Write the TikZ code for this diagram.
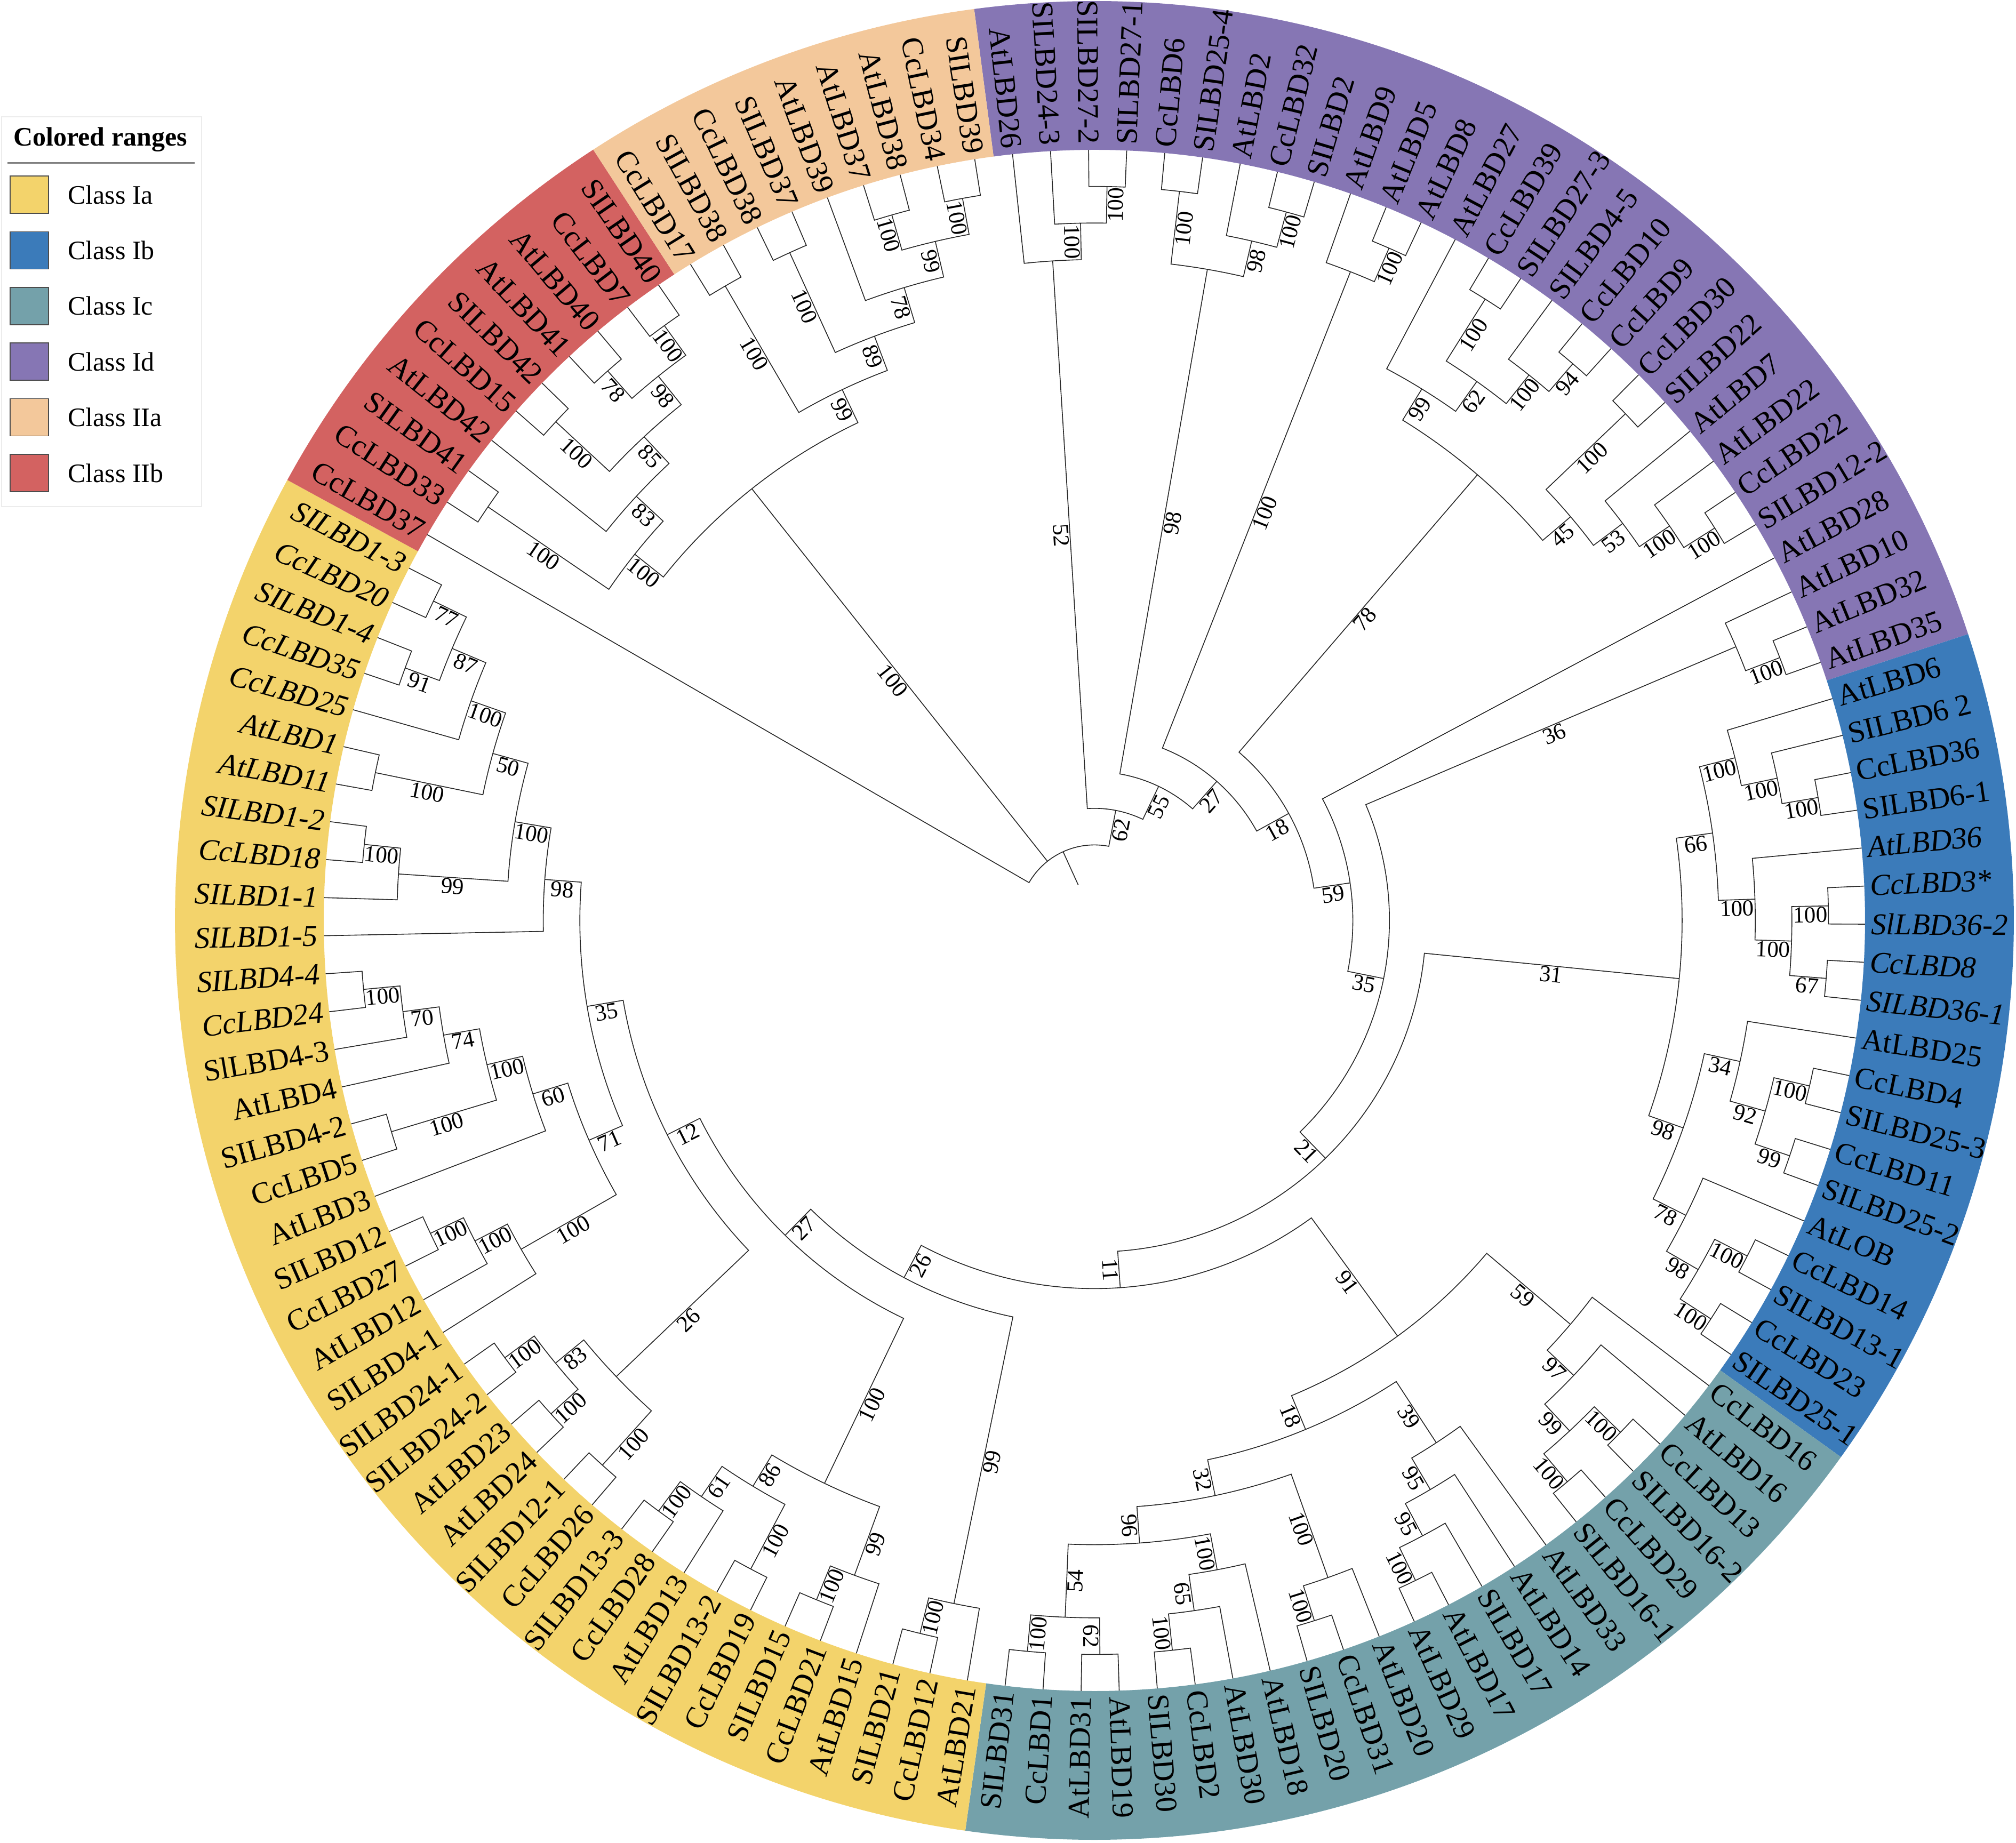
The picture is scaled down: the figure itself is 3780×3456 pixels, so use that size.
\documentclass[tikz,border=0pt]{standalone}
\usepackage{fontspec}
\setmainfont{Liberation Serif}

\definecolor{cIa}{RGB}{243,211,107}
\definecolor{cIb}{RGB}{59,123,186}
\definecolor{cIc}{RGB}{116,161,170}
\definecolor{cId}{RGB}{134,118,180}
\definecolor{cIIa}{RGB}{243,200,155}
\definecolor{cIIb}{RGB}{211,98,97}

\def\Rleaf{1445}
\def\Rtext{1456}
\def\Rout{1724}
\def\hstep{68.6}
\def\startang{96.1}
\def\stepang{2.83465}

\tikzset{
  branch/.style={line width=1.6pt, black!85},
  boot/.style={font=\fontsize{43}{45}\selectfont, anchor=north, inner sep=2pt},
  leaflbl/.style={font=\fontsize{57}{60}\selectfont, inner sep=0pt},
}

\newcommand{\band}[3]{%
  \pgfmathsetmacro\gA{\startang-(#2-0.5)*\stepang}%
  \pgfmathsetmacro\gB{\startang-(#3+0.5)*\stepang}%
  \fill[#1] (\gA:\Rleaf pt) arc[start angle=\gA, end angle=\gB, radius=\Rleaf pt]
    -- (\gB:\Rout pt) arc[start angle=\gB, end angle=\gA, radius=\Rout pt] -- cycle;}

\newcommand{\leaf}[4]{%
  \pgfmathsetmacro\lang{\startang-#1*\stepang}%
  \expandafter\xdef\csname ang@#2\endcsname{\lang}%
  \expandafter\xdef\csname hgt@#2\endcsname{0}%
  \coordinate (#2) at (\lang:\Rleaf pt);%
  \pgfmathsetmacro\lnorm{mod(\lang+720,360)}%
  \pgfmathtruncatemacro\lleft{and(\lnorm>90,\lnorm<270)}%
  \ifnum\lleft=1
    \pgfmathsetmacro\lrot{\lang+180}%
    \node[leaflbl, rotate=\lrot, anchor=east] at (\lang:\Rtext pt) {\ifnum#4=1 \itshape\fi #3};%
  \else
    \node[leaflbl, rotate=\lang, anchor=west] at (\lang:\Rtext pt) {\ifnum#4=1 \itshape\fi #3};%
  \fi}

\newcommand{\bootlabel}[2]{%
  \edef\bH{\csname hgt@#1\endcsname}%
  \ifnum\bH>0
    \edef\bA{\csname ang@#1\endcsname}%
    \pgfmathsetmacro\bR{(#2+\Rleaf-\bH*\hstep)/2}%
    \pgfmathsetmacro\bN{mod(\bA+720,360)}%
    \pgfmathtruncatemacro\bL{and(\bN>90,\bN<270)}%
    \ifnum\bL=1 \pgfmathsetmacro\bRot{\bA+180}\else\edef\bRot{\bA}\fi
    \node[boot, rotate=\bRot] at (\bA:\bR pt) {\csname bs@#1\endcsname};%
  \fi}

\newcommand{\clade}[4]{%
  \edef\chA{\csname ang@#2\endcsname}%
  \edef\chB{\csname ang@#3\endcsname}%
  \edef\hA{\csname hgt@#2\endcsname}%
  \edef\hB{\csname hgt@#3\endcsname}%
  \pgfmathtruncatemacro\cH{max(\hA,\hB)+1}%
  \pgfmathsetmacro\cR{\Rleaf-\cH*\hstep}%
  \pgfmathsetmacro\cA{(\chA+\chB)/2}%
  \expandafter\xdef\csname ang@#1\endcsname{\cA}%
  \expandafter\xdef\csname hgt@#1\endcsname{\cH}%
  \expandafter\xdef\csname bs@#1\endcsname{#4}%
  \coordinate (#1) at (\cA:\cR pt);%
  \draw[branch] (#2) -- (\chA:\cR pt) arc[start angle=\chA, end angle=\chB, radius=\cR pt] -- (#3);%
  \bootlabel{#2}{\cR}\bootlabel{#3}{\cR}}

\begin{document}
\begin{tikzpicture}[x=1pt, y=1pt]
\useasboundingbox (-2052,-1730) rectangle (1728,1726);

\band{cId}{0}{27}
\band{cIb}{28}{46}
\band{cIc}{47}{68}
\band{cIa}{69}{107}
\band{cIIb}{108}{117}
\band{cIIa}{118}{126}

\foreach \k/\t/\s [count=\i from 0] in {
  At26/AtLBD26/0, Sl24-3/SILBD24-3/0, Sl27-2/SILBD27-2/0, Sl27-1/SILBD27-1/0, Cc6/CcLBD6/0,
  Sl25-4/SILBD25-4/0, At2/AtLBD2/0, Cc32/CcLBD32/0, Sl2/SILBD2/0, At9/AtLBD9/0,
  At5/AtLBD5/0, At8/AtLBD8/0, At27/AtLBD27/0, Cc39/CcLBD39/0, Sl27-3/SILBD27-3/0,
  Sl4-5/SILBD4-5/0, Cc10/CcLBD10/0, Cc9/CcLBD9/0, Cc30/CcLBD30/0, Sl22/SILBD22/0,
  At7/AtLBD7/0, At22/AtLBD22/0, Cc22/CcLBD22/0, Sl12-2/SILBD12-2/0, At28/AtLBD28/0,
  At10/AtLBD10/0, At32/AtLBD32/0, At35/AtLBD35/0,
  At6/AtLBD6/0, Sl6-2/SILBD6 2/0, Cc36/CcLBD36/0, Sl6-1/SILBD6-1/0, At36/AtLBD36/1,
  Cc3/CcLBD3*/1, Sl36-2/SlLBD36-2/1, Cc8/CcLBD8/1, Sl36-1/SILBD36-1/1,
  At25/AtLBD25/0, Cc4/CcLBD4/0, Sl25-3/SILBD25-3/0, Cc11/CcLBD11/0, Sl25-2/SILBD25-2/0,
  AtLOB/AtLOB/0, Cc14/CcLBD14/0, Sl13-1/SILBD13-1/0, Cc23/CcLBD23/0, Sl25-1/SILBD25-1/0,
  Cc16/CcLBD16/0, At16/AtLBD16/0, Cc13/CcLBD13/0, Sl16-2/SILBD16-2/0, Cc29/CcLBD29/0,
  Sl16-1/SILBD16-1/0, At33/AtLBD33/0, At14/AtLBD14/0, Sl17/SILBD17/0, At17/AtLBD17/0,
  At29/AtLBD29/0, At20/AtLBD20/0, Cc31/CcLBD31/0, Sl20/SILBD20/0, At18/AtLBD18/0,
  At30/AtLBD30/0, Cc2/CcLBD2/0, Sl30/SILBD30/0, At19/AtLBD19/0, At31/AtLBD31/0,
  Cc1/CcLBD1/0, Sl31/SILBD31/0,
  At21/AtLBD21/0, Cc12/CcLBD12/0, Sl21/SILBD21/0, At15/AtLBD15/0, Cc21/CcLBD21/0,
  Sl15/SILBD15/0, Cc19/CcLBD19/0, Sl13-2/SILBD13-2/0, At13/AtLBD13/0, Cc28/CcLBD28/0,
  Sl13-3/SILBD13-3/0, Cc26/CcLBD26/0, Sl12-1/SILBD12-1/0, At24/AtLBD24/0, At23/AtLBD23/0,
  Sl24-2/SILBD24-2/0, Sl24-1/SILBD24-1/0, Sl4-1/SILBD4-1/0, At12/AtLBD12/0, Cc27/CcLBD27/0,
  Sl12/SILBD12/0, At3/AtLBD3/0, Cc5/CcLBD5/0, Sl4-2/SILBD4-2/0, At4/AtLBD4/0,
  Sl4-3/SlLBD4-3/0, Cc24/CcLBD24/1, Sl4-4/SILBD4-4/1, Sl1-5/SILBD1-5/1, Sl1-1/SILBD1-1/1,
  Cc18/CcLBD18/1, Sl1-2/SILBD1-2/1, At11/AtLBD11/1, At1/AtLBD1/1, Cc25/CcLBD25/1,
  Cc35/CcLBD35/1, Sl1-4/SILBD1-4/1, Cc20/CcLBD20/1, Sl1-3/SILBD1-3/1,
  Cc37/CcLBD37/0, Cc33/CcLBD33/0, Sl41/SILBD41/0, At42/AtLBD42/0, Cc15/CcLBD15/0,
  Sl42/SILBD42/0, At41/AtLBD41/0, At40/AtLBD40/0, Cc7/CcLBD7/0, Sl40/SILBD40/0,
  Cc17/CcLBD17/0, Sl38/SILBD38/0, Cc38/CcLBD38/0, Sl37/SILBD37/0, At39/AtLBD39/0,
  At37/AtLBD37/0, At38/AtLBD38/0, Cc34/CcLBD34/0, Sl39/SILBD39/0}
  {\leaf{\i}{\k}{\t}{\s}}

% class Id
\clade{id1}{Sl27-2}{Sl27-1}{100}
\clade{id2}{Sl24-3}{id1}{100}
\clade{id3}{At26}{id2}{52}
\clade{id4}{Cc6}{Sl25-4}{100}
\clade{id5}{Cc32}{Sl2}{100}
\clade{id6}{At2}{id5}{98}
\clade{id7}{id4}{id6}{98}
\clade{id8}{At5}{At8}{100}
\clade{id9}{At9}{id8}{100}
\clade{id10}{Cc39}{Sl27-3}{100}
\clade{id11}{Cc10}{Cc9}{94}
\clade{id12}{Sl4-5}{id11}{100}
\clade{id13}{id10}{id12}{62}
\clade{id14}{At27}{id13}{99}
\clade{id15}{Cc30}{Sl22}{100}
\clade{id16}{Cc22}{Sl12-2}{100}
\clade{id17}{At22}{id16}{100}
\clade{id18}{At7}{id17}{53}
\clade{id19}{id15}{id18}{45}
\clade{id20}{id14}{id19}{78}
\clade{id21}{At32}{At35}{100}
\clade{id22}{At10}{id21}{36}

% class Ib
\clade{ib1}{Cc36}{Sl6-1}{100}
\clade{ib2}{Sl6-2}{ib1}{100}
\clade{ib3}{At6}{ib2}{100}
\clade{ib4}{Cc3}{Sl36-2}{100}
\clade{ib5}{Cc8}{Sl36-1}{67}
\clade{ib6}{ib4}{ib5}{100}
\clade{ib7}{At36}{ib6}{100}
\clade{ib8}{ib3}{ib7}{66}
\clade{ib9}{Cc4}{Sl25-3}{100}
\clade{ib10}{Cc11}{Sl25-2}{99}
\clade{ib11}{ib9}{ib10}{92}
\clade{ib12}{At25}{ib11}{34}
\clade{ib13}{Cc14}{Sl13-1}{100}
\clade{ib14}{Cc23}{Sl25-1}{100}
\clade{ib15}{ib13}{ib14}{98}
\clade{ib16}{AtLOB}{ib15}{78}
\clade{ib17}{ib12}{ib16}{98}
\clade{ib18}{ib8}{ib17}{31}

% class Ic
\clade{ic1}{Cc13}{Sl16-2}{100}
\clade{ic2}{Cc29}{Sl16-1}{100}
\clade{ic3}{ic1}{ic2}{99}
\clade{ic4}{At16}{ic3}{97}
\clade{ic5}{Cc16}{ic4}{59}
\clade{ic6}{At17}{At29}{100}
\clade{ic7}{Sl17}{ic6}{95}
\clade{ic8}{At14}{ic7}{95}
\clade{ic9}{At33}{ic8}{39}
\clade{ic10}{Cc31}{Sl20}{100}
\clade{ic11}{At20}{ic10}{100}
\clade{ic12}{Cc2}{Sl30}{100}
\clade{ic13}{At30}{ic12}{65}
\clade{ic14}{At18}{ic13}{100}
\clade{ic15}{At19}{At31}{62}
\clade{ic16}{Cc1}{Sl31}{100}
\clade{ic17}{ic15}{ic16}{54}
\clade{ic18}{ic17}{ic14}{96}
\clade{ic19}{ic18}{ic11}{32}
\clade{ic20}{ic19}{ic9}{18}
\clade{ic21}{ic20}{ic5}{91}

% class Ia
\clade{ia1}{Sl4-4}{Cc24}{100}
\clade{ia2}{ia1}{Sl4-3}{70}
\clade{ia3}{ia2}{At4}{74}
\clade{ia4}{Sl4-2}{Cc5}{100}
\clade{ia5}{ia3}{ia4}{100}
\clade{ia6}{ia5}{At3}{60}
\clade{ia7}{Sl12}{Cc27}{100}
\clade{ia8}{ia7}{At12}{100}
\clade{ia9}{ia8}{Sl4-1}{100}
\clade{ia10}{ia6}{ia9}{71}
\clade{ia11}{Sl1-3}{Cc20}{77}
\clade{ia12}{Sl1-4}{Cc35}{91}
\clade{ia13}{ia11}{ia12}{87}
\clade{ia14}{ia13}{Cc25}{100}
\clade{ia15}{At1}{At11}{100}
\clade{ia16}{ia14}{ia15}{50}
\clade{ia17}{Sl1-2}{Cc18}{100}
\clade{ia18}{ia17}{Sl1-1}{99}
\clade{ia19}{ia16}{ia18}{100}
\clade{ia20}{ia19}{Sl1-5}{98}
\clade{ia21}{ia20}{ia10}{35}
\clade{ia22}{Sl24-1}{Sl24-2}{100}
\clade{ia23}{At23}{At24}{100}
\clade{ia24}{ia22}{ia23}{83}
\clade{ia25}{Sl12-1}{Cc26}{100}
\clade{ia26}{ia24}{ia25}{26}
\clade{ia27}{ia21}{ia26}{12}
\clade{ia28}{Sl13-3}{Cc28}{100}
\clade{ia29}{ia28}{At13}{61}
\clade{ia30}{Sl13-2}{Cc19}{100}
\clade{ia31}{ia29}{ia30}{86}
\clade{ia32}{Sl15}{Cc21}{100}
\clade{ia33}{ia32}{At15}{99}
\clade{ia34}{ia31}{ia33}{100}
\clade{ia35}{ia27}{ia34}{27}
\clade{ia36}{Sl21}{Cc12}{100}
\clade{ia37}{ia36}{At21}{99}
\clade{ia38}{ia35}{ia37}{26}

% backbone
\clade{bb1}{ia38}{ic21}{11}
\clade{bb2}{ib18}{bb1}{21}
\clade{bb3}{id22}{bb2}{35}
\clade{bb4}{At28}{bb3}{59}
\clade{bb5}{id20}{bb4}{18}
\clade{bb6}{id9}{bb5}{27}
\clade{bb7}{id7}{bb6}{55}
\clade{bb8}{id3}{bb7}{62}

% class IIb
\clade{iib1}{Cc33}{Sl41}{100}
\clade{iib2}{Cc15}{Sl42}{100}
\clade{iib3}{At41}{At40}{78}
\clade{iib4}{Cc7}{Sl40}{100}
\clade{iib5}{iib3}{iib4}{98}
\clade{iib6}{iib2}{iib5}{85}
\clade{iib7}{At42}{iib6}{83}
\clade{iib8}{iib1}{iib7}{100}

% class IIa
\clade{iia1}{Cc17}{Sl38}{100}
\clade{iia2}{Cc38}{Sl37}{100}
\clade{iia3}{At37}{At38}{100}
\clade{iia4}{Cc34}{Sl39}{100}
\clade{iia5}{iia3}{iia4}{99}
\clade{iia6}{At39}{iia5}{78}
\clade{iia7}{iia2}{iia6}{89}
\clade{iia8}{iia1}{iia7}{99}
\clade{ii}{iib8}{iia8}{100}

% root
\pgfmathsetmacro\rA{\csname ang@bb8\endcsname}
\pgfmathsetmacro\rB{\csname ang@ii\endcsname+360}
\pgfmathsetmacro\rC{\csname ang@Cc37\endcsname+360}
\pgfmathsetmacro\rR{\Rleaf-19*\hstep}
\pgfmathsetmacro\rS{\Rleaf-20*\hstep}
\pgfmathsetmacro\rM{(\rA+\rC)/2}
\coordinate (root) at (\rM:\rR pt);
\coordinate (rootbase) at (\rM:\rS pt);
\draw[branch] (bb8) -- (\rA:\rR pt) arc[start angle=\rA, end angle=\rC, radius=\rR pt] -- (Cc37);
\draw[branch] (\rB:\rR pt) -- (ii);
\draw[branch] (rootbase) -- (root);
\bootlabel{bb8}{\rR}
\bootlabel{ii}{\rR}

% legend
\draw[gray!15, line width=2pt, fill=white] (-2049,1507) rectangle (-1674,776);
\node[font=\fontsize{50}{52}\selectfont\bfseries] (lgtitle) at (-1864,1464) {Colored ranges};
\draw[gray, line width=3pt] (-2038,1420) -- (-1687,1420);
\foreach \c/\t [count=\j from 0] in {cIa/Class Ia, cIb/Class Ib, cIc/Class Ic, cId/Class Id, cIIa/Class IIa, cIIb/Class IIb}{
  \pgfmathsetmacro\yt{1396-104.4*\j}
  \filldraw[fill=\c, draw=black!70, line width=1.5pt] (-2033,\yt) rectangle (-1961,\yt-70);
  \node[font=\fontsize{50}{52}\selectfont, anchor=west] at (-1928,\yt-35) {\t};
}
\end{tikzpicture}
\end{document}
